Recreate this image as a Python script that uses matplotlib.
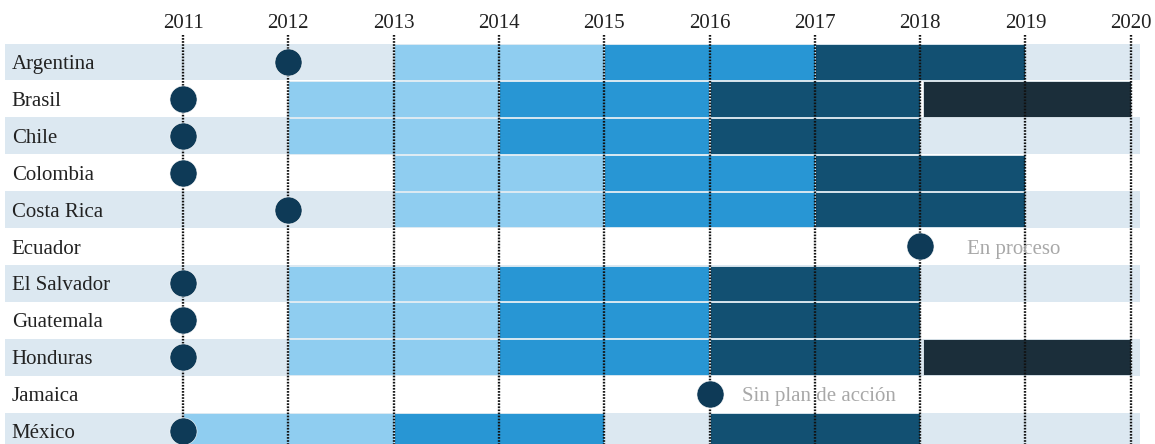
import matplotlib as mpl
mpl.use("Agg")
import matplotlib.pyplot as plt

# countries top to bottom
countries = ["Argentina", "Brasil", "Chile", "Colombia", "Costa Rica", "Ecuador",
             "El Salvador", "Guatemala", "Honduras", "Jamaica", "México"]
years = list(range(2011, 2021))

# year of joining (dot)
join_year = [2012, 2011, 2011, 2011, 2012, 2018, 2011, 2011, 2011, 2016, 2011]

# action plans: (start, length) or None
plan1 = [(2013, 2), (2012, 2), (2012, 2), (2013, 2), (2013, 2), None,
         (2012, 2), (2012, 2), (2012, 2), None, (2011, 2)]
plan2 = [(2015, 2), (2014, 2), (2014, 2), (2015, 2), (2015, 2), None,
         (2014, 2), (2014, 2), (2014, 2), None, (2013, 2)]
plan3 = [(2017, 2), (2016, 2), (2016, 2), (2017, 2), (2017, 2), None,
         (2016, 2), (2016, 2), (2016, 2), None, (2016, 2)]
plan4 = [None, (2018.03, 1.97), None, None, None, None,
         None, None, (2018.03, 1.97), None, None]

notes = {"Ecuador": "En proceso", "Jamaica": "Sin plan de acción"}
note_gap = {"Ecuador": 0.45, "Jamaica": 0.31}

plan_colors = ["#8fcdf0", "#2896d4", "#125072", "#1b2e3a"]
stripe_color = "#dce8f1"
dot_color = "#0e3a57"

plt.rcParams["font.family"] = ["Liberation Serif", "DejaVu Serif"]

fig = plt.figure(figsize=(11.55, 4.44), dpi=100)
ax = fig.add_axes([0, 0, 1, 1])
x0 = 2011 - 183 / 105.3
x1 = 2011 + (1155 - 183) / 105.3
ax.set_xlim(x0, x1)
ax.set_ylim((444 - 62) / 36.9, -62 / 36.9)
ax.axis("off")

left = 2011 - (183 - 5) / 105.3
right = 2011 + (1140 - 183) / 105.3

for i, c in enumerate(countries):
    if i % 2 == 0:
        ax.barh(i, right - left, left=left, height=1.0, color=stripe_color, zorder=1)
    for k, plan in enumerate([plan1, plan2, plan3, plan4]):
        seg = plan[i]
        if seg is None:
            continue
        ax.barh(i, seg[1], left=seg[0], height=0.97, color=plan_colors[k],
                edgecolor="#e3edf3", linewidth=0.6, zorder=2)
    ax.text(left + 0.065, i + 0.19, c, ha="left", va="baseline", fontsize=15,
            color="#222222", zorder=5)
    if c in notes:
        ax.text(join_year[i] + note_gap[c], i + 0.19, notes[c], ha="left", va="baseline",
                fontsize=15, color="#a8a8a8", zorder=5)

ytop = -0.72
for yr in years:
    ax.plot([yr, yr], [ytop, 20], color="#111111", lw=1.7,
            linestyle=(0, (0.7, 0.6)), zorder=3)
    ax.text(yr, -0.92, str(yr), ha="center", va="baseline", fontsize=15, color="#222222")

ax.plot(join_year, range(len(countries)), "o", ms=19.5, color=dot_color,
        markeredgecolor="white", markeredgewidth=0.4, zorder=4, clip_on=False)

fig.savefig("out.png", dpi=100)
